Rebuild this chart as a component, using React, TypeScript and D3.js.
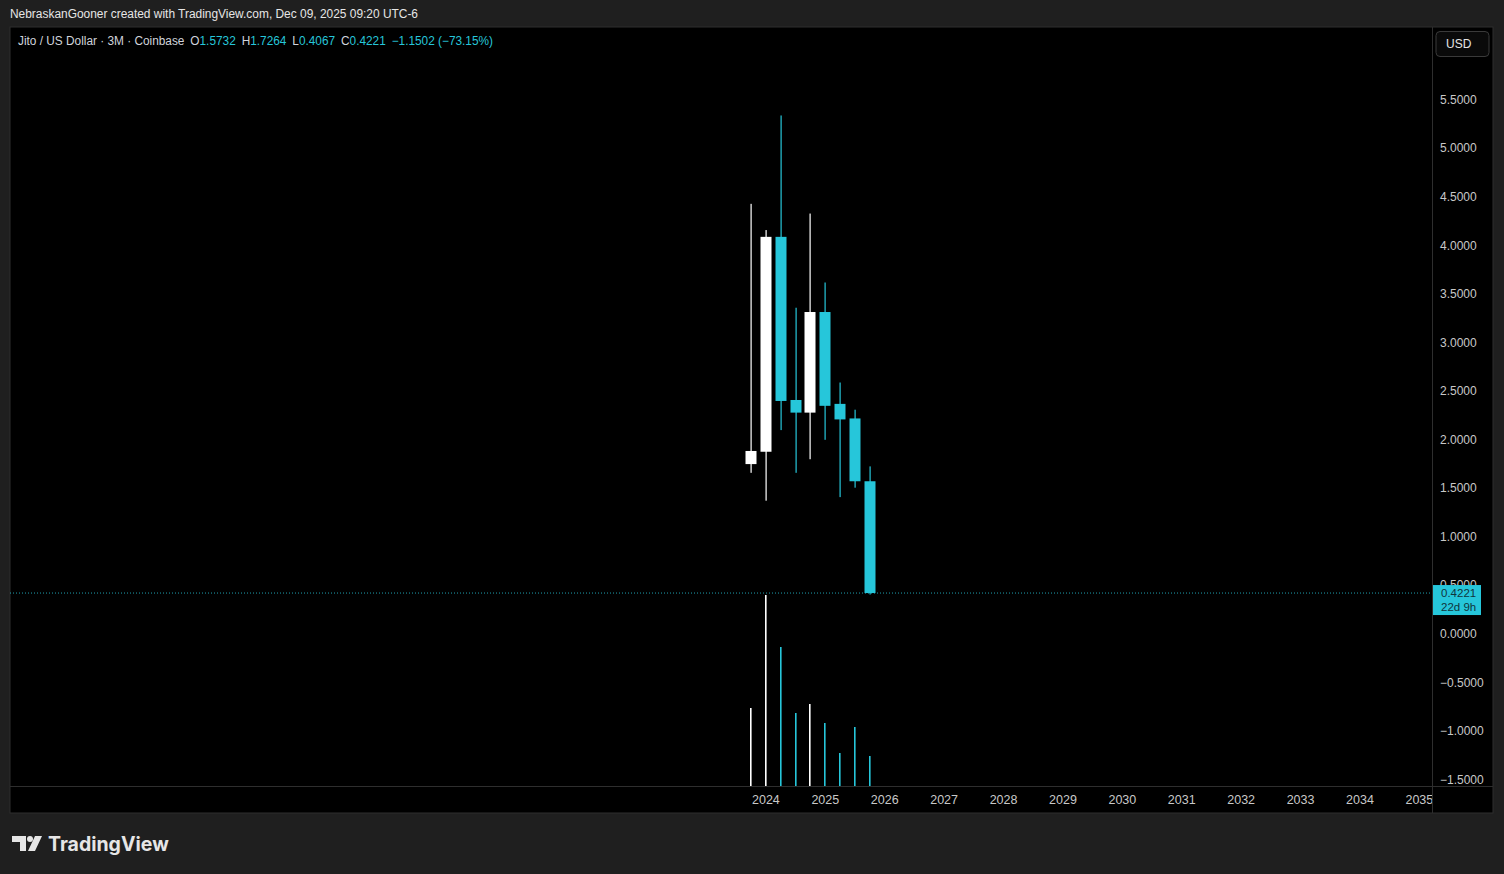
import React from "react";
import * as d3 from "d3";

// quarter index relative to Q1 2024 (=0)
const quarters = [-1, 0, 1, 2, 3, 4, 5, 6, 7];
const opens = [1.75, 1.877, 4.09, 2.41, 2.28, 3.316, 2.37, 2.22, 1.5732];
const highs = [4.43, 4.16, 5.34, 3.36, 4.33, 3.62, 2.59, 2.31, 1.7264];
const lows = [1.66, 1.373, 2.1, 1.66, 1.8, 2.0, 1.41, 1.507, 0.4067];
const closes = [1.885, 4.09, 2.4, 2.28, 3.316, 2.35, 2.21, 1.5732, 0.4221];
const volumes = [78, 191, 139, 73, 82, 63, 33, 59, 30];

const priceTicks = [5.5, 5, 4.5, 4, 3.5, 3, 2.5, 2, 1.5, 1, 0.5, 0, -0.5, -1, -1.5];
const yearTicks = [2024, 2025, 2026, 2027, 2028, 2029, 2030, 2031, 2032, 2033, 2034, 2035];

const W = 1504;
const H = 874;
const PL = 10, PR = 1432, PT = 27, PB = 786, AXB = 813, RIGHT = 1493;
const UP = "#ffffff";
const DOWN = "#26c6da";
const FONT = "'Liberation Sans', 'DejaVu Sans', sans-serif";

export default function App() {
  const x = d3.scaleLinear().domain([-50.9, 44.85]).range([PL, PR]);
  const y = d3.scaleLinear().domain([-1.565, 6.251]).range([PB, PT]);
  const v = d3.scaleLinear().domain([0, d3.max(volumes) as number]).range([PB, 595]);
  const bodyW = 11;
  const last = closes[closes.length - 1];
  const lastY = y(last);

  return (
    <svg width={W} height={H} style={{ position: "absolute", left: 0, top: 0, display: "block" }} fontFamily={FONT}>
      <rect x={0} y={0} width={W} height={H} fill="#1f1f1f" />
      <text x={10} y={18} fontSize={12} fill="#e6e6e6" textLength={408} lengthAdjust="spacingAndGlyphs">
        NebraskanGooner created with TradingView.com, Dec 09, 2025 09:20 UTC-6
      </text>
      {/* panel */}
      <rect x={PL} y={PT} width={RIGHT - PL} height={AXB - PT} fill="#000" stroke="#2e2e2e" strokeWidth={1} />
      <defs>
        <clipPath id="plot">
          <rect x={PL} y={PT} width={PR - PL} height={PB - PT} />
        </clipPath>
        <clipPath id="taxis">
          <rect x={PL} y={PB} width={PR - PL} height={AXB - PB} />
        </clipPath>
      </defs>
      <line x1={PR + 0.5} x2={PR + 0.5} y1={PT} y2={AXB} stroke="#2e2e2e" />
      <line x1={PL} x2={RIGHT} y1={PB + 0.5} y2={PB + 0.5} stroke="#2e2e2e" />

      <g clipPath="url(#plot)">
        {/* volumes */}
        {quarters.map((q, i) => (
          <rect key={"v" + i} x={Math.round(x(q)) - 1} y={v(volumes[i])} width={1.6} height={PB - v(volumes[i])}
            fill={closes[i] >= opens[i] ? UP : DOWN} />
        ))}
        {/* last price line */}
        <line x1={PL} x2={PR} y1={lastY} y2={lastY} stroke={DOWN} strokeOpacity={0.8} strokeDasharray="1 2" />
        {/* candles */}
        {quarters.map((q, i) => {
          const cx = Math.round(x(q));
          const up = closes[i] >= opens[i];
          const c = up ? UP : DOWN;
          const top = y(Math.max(opens[i], closes[i]));
          const bot = y(Math.min(opens[i], closes[i]));
          return (
            <g key={"c" + i}>
              <rect x={cx - 0.5} y={y(highs[i])} width={1.2} height={y(lows[i]) - y(highs[i])} fill={c} />
              <rect x={cx - bodyW / 2} y={top} width={bodyW} height={Math.max(1, bot - top)} fill={c} />
            </g>
          );
        })}
      </g>

      {/* legend */}
      <text x={18} y={45} fontSize={12} textLength={475} lengthAdjust="spacingAndGlyphs">
        <tspan fill="#d1d4dc">Jito / US Dollar · 3M · Coinbase</tspan>
        <tspan fill="#d1d4dc" dx={6}>O</tspan><tspan fill={DOWN}>{opens[8].toFixed(4)}</tspan>
        <tspan fill="#d1d4dc" dx={6}>H</tspan><tspan fill={DOWN}>{highs[8].toFixed(4)}</tspan>
        <tspan fill="#d1d4dc" dx={6}>L</tspan><tspan fill={DOWN}>{lows[8].toFixed(4)}</tspan>
        <tspan fill="#d1d4dc" dx={6}>C</tspan><tspan fill={DOWN}>{last.toFixed(4)}</tspan>
        <tspan fill={DOWN} dx={6}>{"\u22121.1502 (\u221273.15%)"}</tspan>
      </text>

      {/* price axis */}
      <rect x={1436} y={31.5} width={53} height={25} rx={4} fill="#0a0a0a" stroke="#3a3a3a" />
      <text x={1446} y={48} fontSize={12} fill="#e6e6e6">USD</text>
      {priceTicks.map((t) => (
        <text key={t} x={1440} y={y(t) + 4} fontSize={12} fill="#c8c8c8">
          {t < 0 ? "\u2212" + Math.abs(t).toFixed(4) : t.toFixed(4)}
        </text>
      ))}
      <rect x={1433} y={lastY - 8} width={48} height={30} fill={DOWN} />
      <text x={1441} y={lastY + 4} fontSize={11.5} fill="#10353c">{last.toFixed(4)}</text>
      <text x={1441} y={lastY + 18} fontSize={11.5} fill="#10353c">22d 9h</text>

      {/* time axis */}
      <g clipPath="url(#taxis)">
        {yearTicks.map((yr) => (
          <text key={yr} x={x((yr - 2024) * 4)} y={804} fontSize={12.5} fill="#c8c8c8" textAnchor="middle">
            {yr}
          </text>
        ))}
      </g>

      {/* logo */}
      <g fill="#e6e6e6">
        <path d="M12 836 H26 V851 H20 V842 H12 Z" />
        <circle cx={30} cy={839} r={3} />
        <path d="M35 836 H42 L35 851 H28 Z" />
        <text x={48} y={851} fontSize={19.5} fontWeight="bold" fontFamily="Inter, 'Open Sans', sans-serif">TradingView</text>
      </g>
    </svg>
  );
}
